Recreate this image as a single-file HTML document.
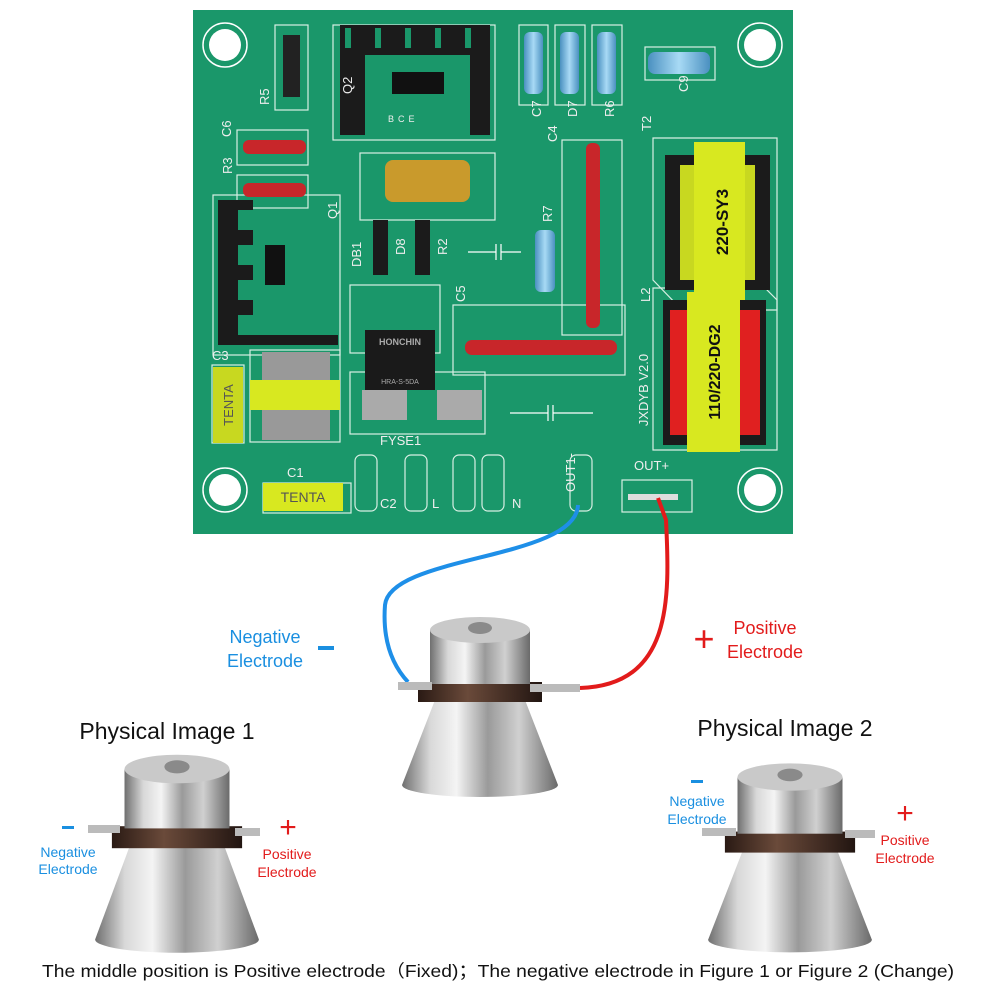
<!DOCTYPE html>
<html><head><meta charset="utf-8"><style>
html,body{margin:0;padding:0;background:#fff}
svg{display:block}
text{font-family:"Liberation Sans",sans-serif}
</style></head><body>
<svg width="1000" height="1000" viewBox="0 0 1000 1000" xmlns="http://www.w3.org/2000/svg">
<defs>
<linearGradient id="metal" x1="0" x2="1" y1="0" y2="0">
<stop offset="0" stop-color="#6f6f6f"/><stop offset="0.18" stop-color="#d8d8d8"/><stop offset="0.35" stop-color="#f4f4f4"/><stop offset="0.55" stop-color="#9a9a9a"/><stop offset="0.75" stop-color="#d0d0d0"/><stop offset="1" stop-color="#6a6a6a"/>
</linearGradient>
<linearGradient id="band" x1="0" x2="1"><stop offset="0" stop-color="#2a1a14"/><stop offset="0.4" stop-color="#6a4a3a"/><stop offset="1" stop-color="#221511"/></linearGradient>
<linearGradient id="blueres" x1="0" x2="1"><stop offset="0" stop-color="#4a90c0"/><stop offset="0.5" stop-color="#a8daf5"/><stop offset="1" stop-color="#4a90c0"/></linearGradient>
<g id="hole"><circle r="22" fill="none" stroke="#fff" stroke-width="1.5"/><circle r="16" fill="#fff"/></g>
<g id="trans">
<path d="M-78,95 L-45,10 L45,10 L78,95 A78,12 0 0 1 -78,95 Z" fill="url(#metal)"/>
<rect x="-62" y="-8" width="124" height="20" fill="url(#band)"/>
<rect x="-50" y="-60" width="100" height="54" fill="url(#metal)"/>
<ellipse cx="0" cy="-60" rx="50" ry="13" fill="#c9c9c9"/>
<ellipse cx="0" cy="-62" rx="12" ry="6" fill="#8a8a8a"/>
</g>
</defs>

<!-- PCB -->
<rect x="193" y="10" width="600" height="524" fill="#1a976a"/>
<g fill="none" stroke="#d8efe4" stroke-width="1.2">
<rect x="275" y="25" width="33" height="85"/>
<rect x="333" y="25" width="162" height="115"/>
<rect x="519" y="25" width="29" height="80"/>
<rect x="555" y="25" width="30" height="80"/>
<rect x="592" y="25" width="30" height="80"/>
<rect x="645" y="47" width="70" height="33"/>
<rect x="237" y="130" width="71" height="35"/>
<rect x="237" y="175" width="71" height="33"/>
<rect x="360" y="153" width="135" height="67"/>
<rect x="213" y="195" width="127" height="160"/>
<rect x="562" y="140" width="60" height="195"/>
<path d="M653,138 H777 V310 H682 L653,280 Z"/>
<rect x="350" y="285" width="90" height="68"/>
<rect x="453" y="305" width="172" height="70"/>
<path d="M653,288 H765 L777,300 V450 H653 Z"/>
<rect x="250" y="350" width="90" height="92"/>
<rect x="350" y="372" width="135" height="62"/>
<rect x="212" y="365" width="32" height="78"/>
<rect x="263" y="483" width="88" height="30"/>
<rect x="355" y="455" width="22" height="56" rx="6"/>
<rect x="405" y="455" width="22" height="56" rx="6"/>
<rect x="453" y="455" width="22" height="56" rx="6"/>
<rect x="482" y="455" width="22" height="56" rx="6"/>
<rect x="570" y="455" width="22" height="56" rx="6"/>
<rect x="622" y="480" width="70" height="32"/>
</g>
<use href="#hole" x="225" y="45"/><use href="#hole" x="760" y="45"/>
<use href="#hole" x="225" y="490"/><use href="#hole" x="760" y="490"/>

<!-- components -->
<rect x="283" y="35" width="17" height="62" fill="#222"/>
<path d="M340,25 h150 v110 h-20 v-80 h-105 v80 h-25z" fill="#1b1b1b"/>
<rect x="345" y="28" width="6" height="20" fill="#1a976a"/><rect x="375" y="28" width="6" height="20" fill="#1a976a"/><rect x="405" y="28" width="6" height="20" fill="#1a976a"/><rect x="435" y="28" width="6" height="20" fill="#1a976a"/><rect x="465" y="28" width="6" height="20" fill="#1a976a"/>
<rect x="392" y="72" width="52" height="22" fill="#111"/>
<rect x="524" y="32" width="19" height="62" rx="6" fill="url(#blueres)"/>
<rect x="560" y="32" width="19" height="62" rx="6" fill="url(#blueres)"/>
<rect x="597" y="32" width="19" height="62" rx="6" fill="url(#blueres)"/>
<rect x="648" y="52" width="62" height="22" rx="7" fill="url(#blueres)"/>
<rect x="243" y="140" width="63" height="14" rx="6" fill="#c8262a"/>
<rect x="243" y="183" width="63" height="14" rx="6" fill="#c8262a"/>
<rect x="385" y="160" width="85" height="42" rx="8" fill="#c99a2c"/>
<path d="M218,200 h35 v10 h-15 v20 h15 v15 h-15 v20 h15 v15 h-15 v20 h15 v15 h-15 v20 h100 v10 h-120z" fill="#1b1b1b"/>
<rect x="265" y="245" width="20" height="40" fill="#111"/>
<rect x="373" y="220" width="15" height="55" fill="#1b1b1b"/>
<rect x="415" y="220" width="15" height="55" fill="#1b1b1b"/>
<rect x="535" y="230" width="20" height="62" rx="6" fill="url(#blueres)"/>
<rect x="586" y="143" width="14" height="185" rx="6" fill="#c8262a"/>
<path d="M468,252 h28 M501,252 h20 M496,244 v16 M501,244 v16" stroke="#fff" stroke-width="1.2"/>
<rect x="665" y="155" width="105" height="135" fill="#1b1b1b"/>
<rect x="680" y="165" width="75" height="115" fill="#c8d820"/>
<rect x="694" y="142" width="51" height="158" fill="#d8e820"/>
<text transform="translate(728,222) rotate(-90)" text-anchor="middle" font-size="17" font-weight="bold" fill="#111">220-SY3</text>
<rect x="365" y="330" width="70" height="60" fill="#1a1a1a"/>
<text x="400" y="345" text-anchor="middle" font-size="9" font-weight="bold" fill="#aaa">HONCHIN</text>
<text x="400" y="384" text-anchor="middle" font-size="7" fill="#aaa">HRA-S-5DA</text>
<rect x="465" y="340" width="152" height="15" rx="7" fill="#c8262a"/>
<rect x="663" y="300" width="103" height="145" fill="#1b1b1b"/>
<rect x="670" y="310" width="90" height="125" fill="#e02020"/>
<rect x="687" y="292" width="53" height="160" fill="#d8e820"/>
<text transform="translate(720,372) rotate(-90)" text-anchor="middle" font-size="16" font-weight="bold" fill="#111">110/220-DG2</text>
<text transform="translate(648,390) rotate(-90)" text-anchor="middle" font-size="13" fill="#eee">JXDYB  V2.0</text>
<rect x="262" y="352" width="68" height="88" fill="#999"/>
<rect x="250" y="380" width="90" height="30" fill="#d8e820"/>
<rect x="213" y="367" width="30" height="76" fill="#c8d820"/>
<text transform="translate(233,405) rotate(-90)" text-anchor="middle" font-size="13" fill="#555">TENTA</text>
<rect x="362" y="390" width="45" height="30" fill="#aaa"/><rect x="437" y="390" width="45" height="30" fill="#aaa"/>
<rect x="263" y="483" width="80" height="28" fill="#d8e820"/>
<text x="303" y="502" text-anchor="middle" font-size="14" fill="#555">TENTA</text>
<path d="M510,413 h38 M553,413 h40 M548,405 v16 M553,405 v16" stroke="#fff" stroke-width="1.2"/>
<rect x="628" y="494" width="50" height="6" fill="#ddd"/>
<g fill="#eee" font-size="13">
<text x="258" y="106" transform="rotate(-90 263 100)">R5</text>
<text x="222" y="138" transform="rotate(-90 226 133)">C6</text>
<text x="222" y="176" transform="rotate(-90 226 170)">R3</text>
<text x="343" y="95" transform="rotate(-90 347 90)">Q2</text>
<text x="388" y="122" font-size="9" letter-spacing="4">BCE</text>
<text x="530" y="118" transform="rotate(-90 535 112)">C7</text>
<text x="566" y="118" transform="rotate(-90 571 112)">D7</text>
<text x="603" y="118" transform="rotate(-90 608 112)">R6</text>
<text x="677" y="93" transform="rotate(-90 682 87)">C9</text>
<text x="546" y="143" transform="rotate(-90 551 137)">C4</text>
<text x="640" y="132" transform="rotate(-90 645 126)">T2</text>
<text x="326" y="220" transform="rotate(-90 331 214)">Q1</text>
<text x="350" y="268" transform="rotate(-90 355 262)">DB1</text>
<text x="395" y="255" transform="rotate(-90 400 250)">D8</text>
<text x="437" y="255" transform="rotate(-90 442 250)">R2</text>
<text x="542" y="222" transform="rotate(-90 547 217)">R7</text>
<text x="455" y="302" transform="rotate(-90 460 297)">C5</text>
<text x="640" y="302" transform="rotate(-90 645 297)">L2</text>
<text x="212" y="360">C3</text>
<text x="287" y="477">C1</text>
<text x="380" y="445">FYSE1</text>
<text x="380" y="508">C2</text>
<text x="432" y="508">L</text>
<text x="512" y="508">N</text>
<text x="560" y="507" transform="rotate(-90 560 492)">OUT1-</text>
<text x="634" y="470">OUT+</text>
</g>

<!-- wires -->
<path d="M578,505 C576,560 390,555 385,605 C382,645 395,668 408,682" fill="none" stroke="#1e8fe8" stroke-width="4"/>
<path d="M658,498 L666,520 C670,600 672,685 580,688" fill="none" stroke="#e21b1b" stroke-width="4"/>

<!-- transducers -->
<use href="#trans" x="480" y="690"/>
<path d="M398,682 h34 v8 h-34z M530,684 h50 v8 h-50z" fill="#bbb"/>
<g transform="translate(177,835) scale(1.05,1.1)"><use href="#trans"/></g>
<path d="M88,825 h32 v8 h-32z M235,828 h25 v8 h-25z" fill="#bbb"/>
<g transform="translate(790,840) scale(1.05,1.05)"><use href="#trans"/></g>
<path d="M702,828 h34 v8 h-34z M845,830 h30 v8 h-30z" fill="#bbb"/>

<!-- labels -->
<g fill="#1a8fe0" text-anchor="middle">
<text x="265" y="643" font-size="18">Negative</text>
<text x="265" y="667" font-size="18">Electrode</text>
<rect x="318" y="646" width="16" height="4"/>
<text x="68" y="857" font-size="14">Negative</text>
<text x="68" y="874" font-size="14">Electrode</text>
<rect x="62" y="826" width="12" height="3"/>
<text x="697" y="806" font-size="14">Negative</text>
<text x="697" y="824" font-size="14">Electrode</text>
<rect x="691" y="780" width="12" height="3"/>
</g>
<g fill="#e21b1b" text-anchor="middle">
<text x="704" y="651" font-size="36">+</text>
<text x="765" y="634" font-size="18">Positive</text>
<text x="765" y="658" font-size="18">Electrode</text>
<text x="288" y="837" font-size="30">+</text>
<text x="287" y="859" font-size="14">Positive</text>
<text x="287" y="877" font-size="14">Electrode</text>
<text x="905" y="823" font-size="30">+</text>
<text x="905" y="845" font-size="14">Positive</text>
<text x="905" y="863" font-size="14">Electrode</text>
</g>
<text x="167" y="739" text-anchor="middle" font-size="23" fill="#111">Physical Image 1</text>
<text x="785" y="736" text-anchor="middle" font-size="23" fill="#111">Physical Image 2</text>
<text x="498" y="977" text-anchor="middle" font-size="17.5" fill="#111" textLength="912" lengthAdjust="spacingAndGlyphs">The middle position is Positive electrode（Fixed)；The negative electrode in Figure 1 or Figure 2 (Change)</text>
</svg>
</body></html>
